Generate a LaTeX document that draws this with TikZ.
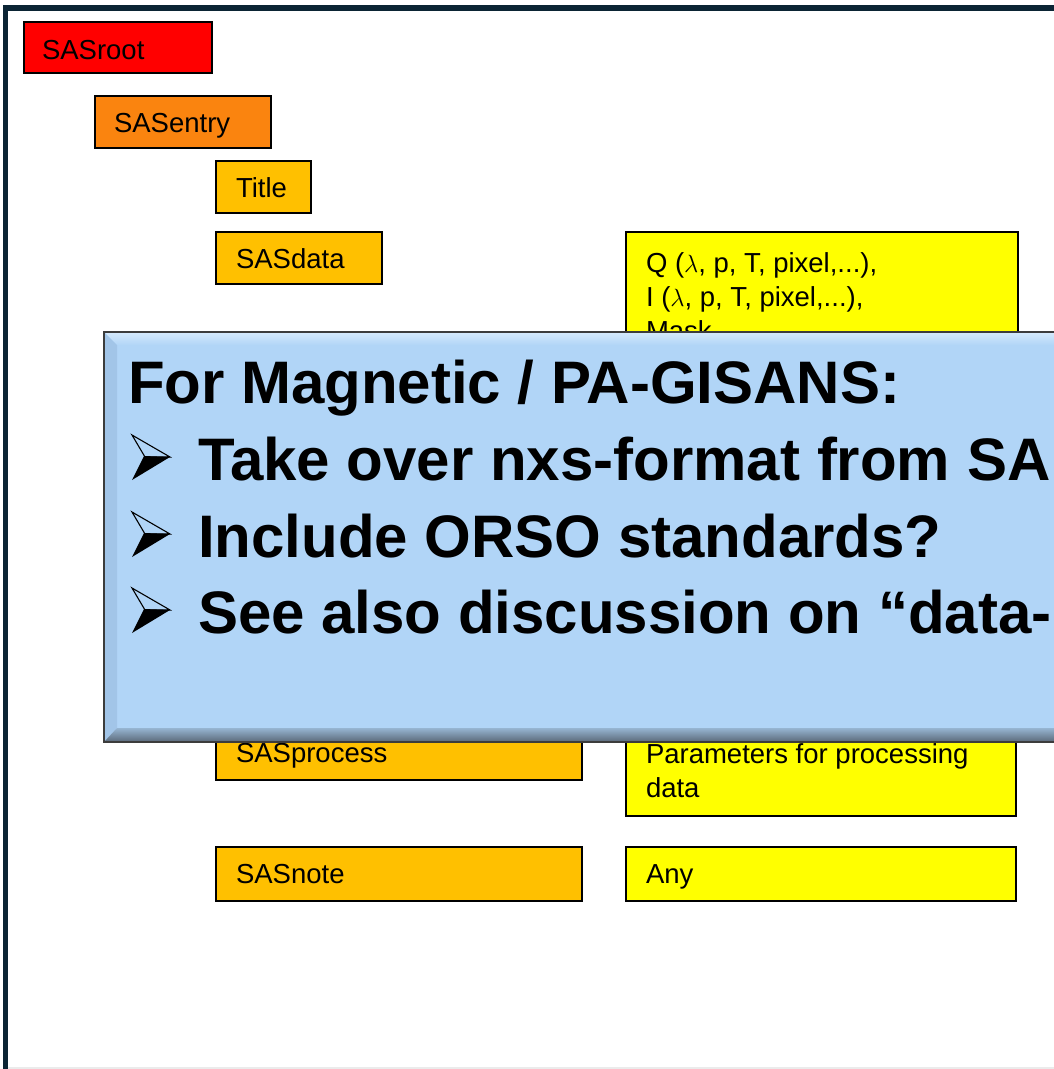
\documentclass[tikz,border=0pt]{standalone}
\usepackage{fontspec}
\setmainfont{Liberation Sans}
\definecolor{framecol}{HTML}{0B2434}
\definecolor{rootred}{HTML}{FF0000}
\definecolor{entryor}{HTML}{FA840F}
\definecolor{amber}{HTML}{FFC000}
\definecolor{yel}{HTML}{FFFF00}
\definecolor{bluefill}{HTML}{B1D5F7}
\definecolor{bluelight}{HTML}{D6EAFC}
\definecolor{blueleft}{HTML}{A2C5E8}
\definecolor{bluedark}{HTML}{5A6878}
\definecolor{bordergrey}{HTML}{3C3C3C}
\begin{document}
\begin{tikzpicture}[x=1pt,y=-1pt,
  box/.style={draw=black, line width=1.5pt, inner sep=0pt, outer sep=0pt, anchor=north west},
  lbl/.style={anchor=base west, inner sep=0pt, outer sep=0pt, font=\fontsize{27.5}{34}\selectfont},
  big/.style={anchor=base west, inner sep=0pt, outer sep=0pt, font=\fontsize{60}{70}\selectfont\bfseries},
  arrowbullet/.pic={
    \draw[black, line width=1.1pt, line join=miter] (0,-45) -- (38,-23) -- (13,-23) -- cycle;
    \fill[black] (12,-24) -- (38,-23) -- (0,0) -- cycle;
  },
]
\useasboundingbox (0,0) rectangle (1054,1069);
\clip (0,0) rectangle (1054,1069);
\fill[white] (0,0) rectangle (1054,1069);
% frame
\fill[framecol] (3,5) rectangle (1054,11);
\fill[framecol] (3,5) rectangle (8,1069);
\fill[black!8] (8,1067) rectangle (1054,1069);

% boxes
\node[box, fill=rootred, minimum width=188pt, minimum height=51pt] (root) at (24,22) {};
\node[lbl] (roottxt) at (42,59) {SASroot};
\node[box, fill=entryor, minimum width=176pt, minimum height=52pt] (entry) at (95,96) {};
\node[lbl] (entrytxt) at (114,132) {SASentry};
\node[box, fill=amber, minimum width=95pt, minimum height=52pt] (title) at (216,161) {};
\node[lbl] (titletxt) at (236,197) {Title};
\node[box, fill=amber, minimum width=166pt, minimum height=52pt] (data) at (216,232) {};
\node[lbl] (datatxt) at (236,268) {SASdata};
\node[box, fill=yel, minimum width=392pt, minimum height=140pt] (datadesc) at (626,232) {};
\node[lbl] (dl1) at (646,272) {Q ($\lambda$, p, T, pixel,...),};
\node[lbl] (dl2) at (646,306) {I ($\lambda$, p, T, pixel,...),};
\node[lbl] (dl3) at (646,340) {Mask};

\node[box, fill=amber, minimum width=366pt, minimum height=54pt] (proc) at (216,726) {};
\node[lbl] (proctxt) at (236,762) {SASprocess};
\node[box, fill=yel, minimum width=390pt, minimum height=90pt] (procdesc) at (626,726) {};
\node[lbl] (pl1) at (646,763) {Parameters for processing};
\node[lbl] (pl2) at (646,797) {data};

\node[box, fill=amber, minimum width=366pt, minimum height=54pt] (note) at (216,847) {};
\node[lbl] (notetxt) at (236,883) {SASnote};
\node[box, fill=yel, minimum width=390pt, minimum height=54pt] (notedesc) at (626,847) {};
\node[lbl] (notedtxt) at (646,883) {Any};

% blue callout
\fill[bluefill] (104,332) rectangle (1070,742);
\shade[top color=bluelight, bottom color=bluefill] (104,332) -- (1070,332) -- (1070,345) -- (117,345) -- cycle;
\fill[blueleft] (104,332) -- (117,345) -- (117,728) -- (104,742) -- cycle;
\shade[top color=bluefill!85!black, bottom color=bluedark] (104,742) -- (117,728) -- (1070,728) -- (1070,742) -- cycle;
\draw[bordergrey, line width=1.5pt] (1070,332) -- (104,332) -- (104,742) -- (1070,742);

\node[big] (head) at (128,403) {For Magnetic / PA-GISANS:};
\pic (b1) at (132,480) {arrowbullet};
\node[big] (t1) at (198,480) {Take over nxs-format from SANS};
\pic (b2) at (132,557) {arrowbullet};
\node[big] (t2) at (198,557) {Include ORSO standards?};
\pic (b3) at (132,633) {arrowbullet};
\node[big] (t3) at (198,633) {See also discussion on “data-};
\end{tikzpicture}
\end{document}
